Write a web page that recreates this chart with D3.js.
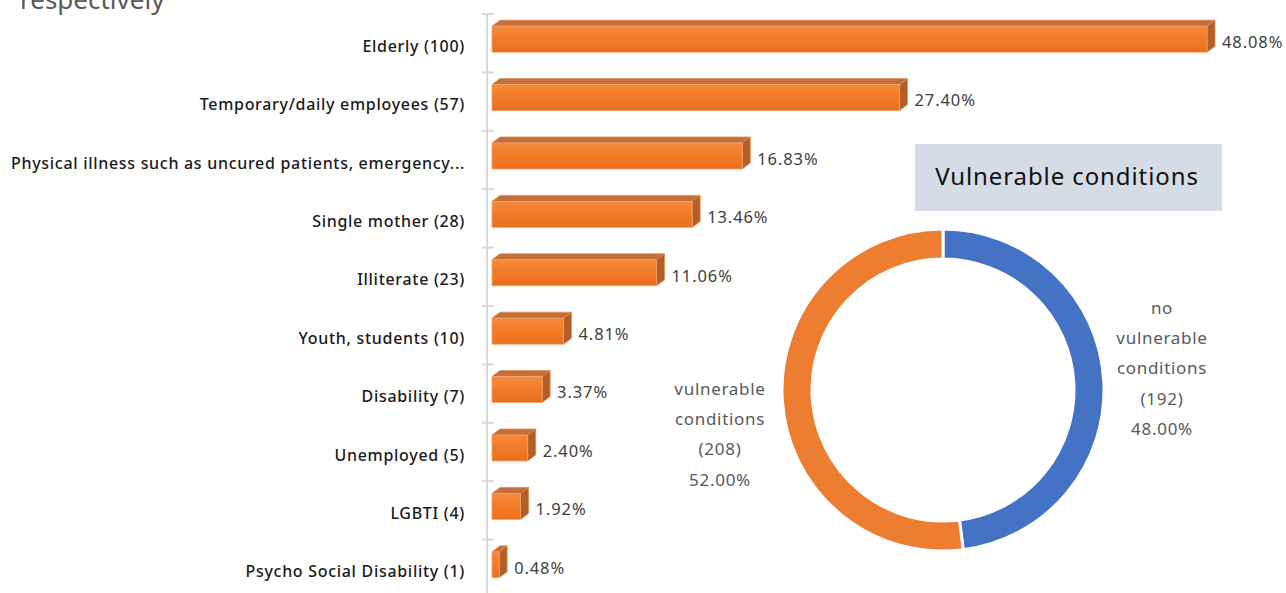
<!DOCTYPE html>
<html>
<head>
<meta charset="utf-8">
<script src="https://cdn.jsdelivr.net/npm/d3@7/dist/d3.min.js"></script>
<style>
  html, body { margin: 0; padding: 0; background: #ffffff; }
  svg { display: block; font-family: "Noto Sans", "Open Sans", sans-serif; }
</style>
</head>
<body>
<svg id="chart" width="1286" height="593"></svg>
<script>
// Vulnerable groups (count of respondents and share of the 208 vulnerable)
const categories = [
  "Elderly",
  "Temporary/daily employees",
  "Physical illness such as uncured patients, emergency...",
  "Single mother",
  "Illiterate",
  "Youth, students",
  "Disability",
  "Unemployed",
  "LGBTI",
  "Psycho Social Disability"
];
const counts = [100, 57, null, 28, 23, 10, 7, 5, 4, 1];
const percents = [48.08, 27.40, 16.83, 13.46, 11.06, 4.81, 3.37, 2.40, 1.92, 0.48];

// Donut: vulnerable vs not
const donutLabels = [["no", "vulnerable", "conditions"], ["vulnerable", "conditions"]];
const donutCounts = [192, 208];
const donutShares = [48.00, 52.00];
const donutColors = ["#4472c4", "#ed7d31"];

const svg = d3.select("#chart");
const defs = svg.append("defs");

const front = defs.append("linearGradient").attr("id", "barFront")
  .attr("x1", 0).attr("y1", 0).attr("x2", 0).attr("y2", 1);
front.append("stop").attr("offset", "0%").attr("stop-color", "#f48a3e");
front.append("stop").attr("offset", "45%").attr("stop-color", "#f37b28");
front.append("stop").attr("offset", "100%").attr("stop-color", "#e86f1f");

// Heading fragment of the surrounding text
svg.append("text")
  .attr("x", 20).attr("y", 9)
  .attr("font-size", 26).attr("fill", "#595959")
  .text("respectively");

// ---- Bar chart ----
const y = d3.scaleBand().domain(categories).range([14, 598]).paddingInner(0).paddingOuter(0);
const x = d3.scaleLinear().domain([0, 48.08]).range([492, 1207]);

const axisX = 487;
const depthX = 8, depthY = 6;

// axis line and category separator ticks
svg.append("line")
  .attr("x1", axisX).attr("x2", axisX)
  .attr("y1", y.range()[0]).attr("y2", 593)
  .attr("stroke", "#d9d9d9").attr("stroke-width", 2);

const tickYs = categories.map(c => y(c));
svg.selectAll("line.tick").data(tickYs).join("line")
  .attr("class", "tick")
  .attr("x1", axisX - 5).attr("x2", axisX + 7)
  .attr("y1", d => d).attr("y2", d => d)
  .attr("stroke", "#d9d9d9").attr("stroke-width", 2);

const rows = categories.map((c, i) => ({
  cat: c, count: counts[i], pct: percents[i],
  label: counts[i] == null ? c : `${c} (${counts[i]})`
}));

const bars = svg.selectAll("g.bar").data(rows).join("g").attr("class", "bar");

bars.each(function(d) {
  const g = d3.select(this);
  const c = y(d.cat) + y.bandwidth() / 2;
  const x0 = x(0), x1 = x(d.pct);
  const yTop = c - 17, yBot = c + 9;
  // top face
  g.append("path")
    .attr("d", `M${x0},${yTop} L${x0 + depthX},${yTop - depthY} L${x1 + depthX},${yTop - depthY} L${x1},${yTop} Z`)
    .attr("fill", "#c46e38").attr("stroke", "#d98a55").attr("stroke-width", 0.8);
  // side face
  g.append("path")
    .attr("d", `M${x1},${yTop} L${x1 + depthX},${yTop - depthY} L${x1 + depthX},${yBot - depthY} L${x1},${yBot} Z`)
    .attr("fill", "#b45f27").attr("stroke", "#d98a55").attr("stroke-width", 0.8);
  // front face
  g.append("rect")
    .attr("x", x0).attr("y", yTop)
    .attr("width", x1 - x0).attr("height", yBot - yTop)
    .attr("fill", "url(#barFront)").attr("stroke", "#f6a26a").attr("stroke-width", 0.8);
  // value label
  g.append("text")
    .attr("x", x1 + depthX + 7).attr("y", c - 1)
    .attr("dy", "0.35em")
    .attr("font-size", 16.5).attr("letter-spacing", 0.9).attr("fill", "#404040")
    .text(d3.format(".2f")(d.pct) + "%");
  // category label
  g.append("text")
    .attr("x", 465).attr("y", c + 3)
    .attr("dy", "0.35em")
    .attr("text-anchor", "end")
    .attr("font-size", 16).attr("font-weight", 500).attr("letter-spacing", 0.7).attr("fill", "#1a1a1a")
    .text(d.label);
});

// ---- Donut ----
const cx = 943, cy = 390, rOuter = 161, rInner = 131;
const pie = d3.pie().sort(null).value(d => d)(donutCounts);
const arc = d3.arc().innerRadius(rInner).outerRadius(rOuter);

svg.append("g").attr("transform", `translate(${cx},${cy})`)
  .selectAll("path").data(pie).join("path")
  .attr("d", arc)
  .attr("fill", (d, i) => donutColors[i])
  .attr("stroke", "#ffffff").attr("stroke-width", 3);

// donut title box
svg.append("rect")
  .attr("x", 915).attr("y", 144).attr("width", 307).attr("height", 67)
  .attr("fill", "#d6dce5");
svg.append("text")
  .attr("x", 1067).attr("y", 177).attr("dy", "0.35em")
  .attr("text-anchor", "middle")
  .attr("font-size", 24).attr("letter-spacing", 0.9).attr("fill", "#111111")
  .text("Vulnerable conditions");

// donut data labels
const labelPos = [[1162, 308], [720, 389]];
donutLabels.forEach((lines, i) => {
  const all = lines.concat([`(${donutCounts[i]})`, d3.format(".2f")(donutShares[i]) + "%"]);
  svg.append("g").selectAll("text").data(all).join("text")
    .attr("x", labelPos[i][0])
    .attr("y", (d, k) => labelPos[i][1] + k * 30.2)
    .attr("dy", "0.35em")
    .attr("text-anchor", "middle")
    .attr("font-size", 17).attr("letter-spacing", 0.7).attr("fill", "#595959")
    .text(d => d);
});
</script>
</body>
</html>
